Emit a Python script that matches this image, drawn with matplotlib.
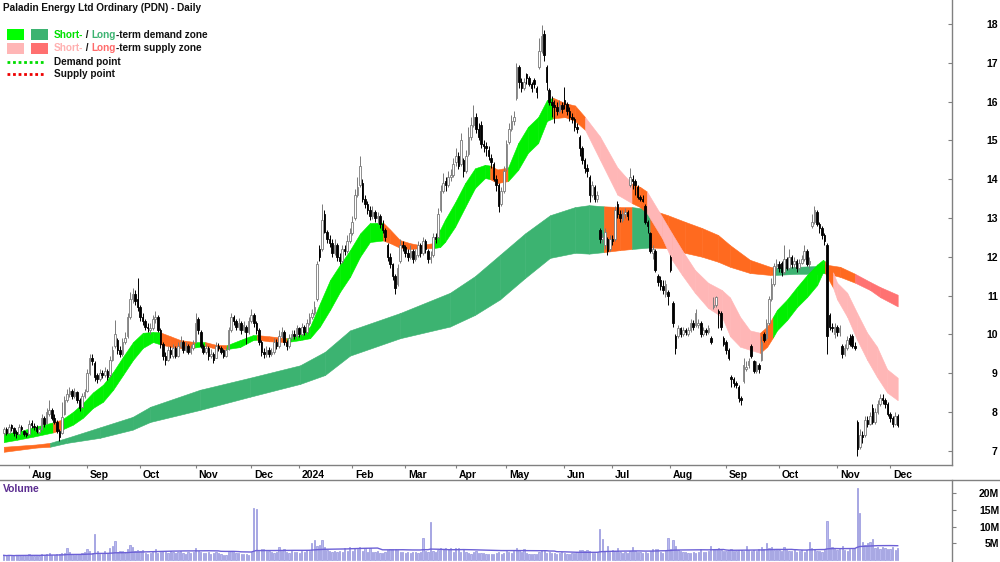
import numpy as np
import pandas as pd
import matplotlib
matplotlib.use('Agg')
import matplotlib.pyplot as plt
from matplotlib.patches import Rectangle
from matplotlib.lines import Line2D
import matplotlib.transforms as mtransforms

plt.rcParams['font.family'] = ['Liberation Sans', 'DejaVu Sans']

# ---------------- data ----------------
start_date = '2023-07-18'
holidays = ['2023-12-25', '2023-12-26', '2024-01-01', '2024-01-26', '2024-03-29',
            '2024-04-01', '2024-04-25', '2024-06-10', '2024-12-25', '2024-12-26']

opens = [
    7.45, 7.55, 7.45, 7.65, 7.58, 7.48, 7.42, 7.62, 7.5, 7.45,
    7.42, 7.72, 7.62, 7.6, 7.48, 7.55, 7.85, 7.72, 7.95, 8.05,
    7.85, 7.75, 7.5, 7.45, 7.95, 8.3, 8.45, 8.55, 8.4, 8.5,
    8.3, 8.12, 8.4, 8.55, 9.0, 9.4, 9.25, 8.95, 8.85, 9.0,
    8.95, 9.05, 8.95, 9.35, 9.7, 9.85, 9.6, 9.5, 9.8, 9.95,
    10.45, 10.9, 11.05, 10.9, 10.7, 10.45, 10.35, 10.2, 10.1, 10.15,
    10.4, 10.45, 10.1, 9.75, 9.45, 9.35, 9.6, 9.45, 9.65, 9.45,
    9.7, 9.8, 9.6, 9.7, 9.55, 9.65, 9.8, 10.4, 10.05, 9.7,
    9.55, 9.65, 9.45, 9.5, 9.4, 9.7, 9.65, 9.6, 9.45, 9.62,
    10.1, 10.45, 10.35, 10.2, 10.3, 10.1, 10.2, 10.05, 10.35, 10.5,
    10.3, 10.1, 9.8, 9.55, 9.5, 9.6, 9.5, 9.55, 9.8, 9.7,
    9.95, 10.05, 9.8, 9.7, 9.9, 10.0, 9.95, 10.15, 10.0, 10.2,
    10.05, 10.3, 10.45, 10.55, 10.9, 12.2, 12.2, 13.1, 12.65, 12.45,
    12.35, 12.1, 12.3, 12.0, 11.9, 12.2, 12.15, 12.4, 12.6, 13.0,
    13.6, 13.85, 13.9, 13.5, 13.35, 13.2, 13.05, 13.15, 13.0, 13.05,
    12.85, 12.7, 12.3, 12.0, 11.8, 11.5, 11.3, 11.9, 12.3, 12.25,
    12.1, 12.0, 12.15, 11.95, 12.05, 12.3, 12.1, 12.4, 12.15, 11.95,
    12.05, 12.5, 12.5, 13.2, 13.7, 13.95, 13.85, 14.05, 14.1, 14.45,
    14.6, 14.4, 14.5, 14.2, 14.65, 15.1, 15.4, 15.6, 15.3, 15.4,
    14.9, 14.85, 14.75, 14.55, 14.4, 14.0, 13.85, 13.35, 13.7, 14.25,
    14.95, 15.3, 15.5, 16.1, 16.9, 16.5, 16.35, 16.7, 16.6, 16.45,
    16.55, 16.35, 16.9, 17.3, 17.75, 16.9, 16.3, 16.0, 15.9, 15.85,
    15.75, 15.9, 16.05, 15.95, 15.75, 15.6, 15.55, 15.35, 15.1, 14.8,
    14.5, 14.3, 14.05, 13.6, 13.8, 13.5, 12.7, 12.45, 12.3, 12.45,
    12.2, 12.45, 12.45, 13.35, 13.1, 12.95, 13.1, 13.15, 13.85, 14.0,
    13.95, 13.8, 13.55, 13.5, 13.3, 12.9, 12.6, 12.1, 12.15, 11.5,
    11.4, 11.25, 11.05, 11.1, 12.0, 10.8, 9.95, 9.95, 10.15, 10.0,
    10.1, 10.0, 10.1, 10.3, 10.25, 10.25, 10.3, 10.0, 10.1, 10.05,
    9.9, 10.7, 10.75, 10.6, 10.55, 9.9, 9.8, 9.6, 8.9, 8.85,
    8.75, 8.65, 8.35, 8.8, 9.1, 9.2, 9.7, 9.3, 9.05, 9.2,
    9.35, 10.0, 9.9, 10.3, 10.9, 11.3, 11.75, 11.8, 11.85, 11.6,
    11.95, 11.7, 12.0, 11.8, 11.9, 11.7, 11.85, 11.95, 12.15, 11.8,
    12.8, 12.9, 13.15, 12.85, 12.75, 12.55, 12.3, 10.5, 10.2, 10.0,
    10.2, 10.05, 9.7, 9.5, 9.65, 9.9, 9.95, 9.7, 7.75, 7.1,
    7.4, 7.4, 7.8, 7.7, 8.1, 7.75, 8.0, 8.2, 8.35, 8.3,
    8.2, 7.95, 7.85, 7.7, 7.9]

highs = [
    7.62, 7.6, 7.7, 7.7, 7.6, 7.52, 7.68, 7.66, 7.52, 7.48,
    7.8, 7.8, 7.72, 7.65, 7.62, 7.95, 7.9, 8.1, 8.3, 8.1,
    7.95, 7.78, 7.55, 8.25, 8.4, 8.6, 8.65, 8.6, 8.62, 8.55,
    8.35, 8.48, 8.6, 9.1, 9.5, 9.48, 9.3, 9.0, 9.1, 9.08,
    9.15, 9.1, 9.45, 9.7, 10.37, 9.9, 9.7, 9.9, 10.05, 10.55,
    11.1, 11.2, 11.15, 11.45, 10.75, 10.55, 10.4, 10.3, 10.3, 10.5,
    10.6, 10.5, 10.15, 9.8, 9.55, 9.7, 9.7, 9.75, 9.7, 9.8,
    9.95, 9.85, 9.8, 9.75, 9.72, 9.85, 10.55, 10.45, 10.1, 9.75,
    9.75, 9.7, 9.62, 9.55, 9.8, 9.78, 9.7, 9.62, 9.68, 10.2,
    10.55, 10.5, 10.4, 10.42, 10.35, 10.35, 10.25, 10.45, 10.65, 10.55,
    10.35, 10.15, 9.85, 9.65, 9.7, 9.68, 9.65, 9.9, 9.88, 10.1,
    10.2, 10.1, 9.85, 10.0, 10.1, 10.1, 10.25, 10.2, 10.3, 10.25,
    10.4, 10.55, 10.65, 10.85, 11.9, 12.3, 13.35, 13.2, 12.7, 12.55,
    12.45, 12.45, 12.35, 12.1, 12.3, 12.3, 12.55, 12.75, 13.05, 13.75,
    14.05, 14.6, 14.0, 13.6, 13.45, 13.3, 13.3, 13.2, 13.15, 13.1,
    12.95, 12.75, 12.35, 12.1, 11.85, 11.55, 11.8, 12.45, 12.4, 12.3,
    12.2, 12.3, 12.2, 12.2, 12.4, 12.35, 12.5, 12.45, 12.2, 12.15,
    12.6, 12.6, 13.25, 13.85, 14.15, 14.05, 14.2, 14.25, 14.55, 14.8,
    14.7, 15.2, 14.55, 14.75, 15.35, 15.6, 15.9, 15.7, 15.45, 15.5,
    15.0, 14.95, 14.85, 14.65, 14.45, 14.1, 13.9, 13.8, 14.35, 15.0,
    15.45, 15.65, 15.75, 17.0, 16.95, 16.6, 16.6, 16.75, 16.65, 16.5,
    16.6, 16.4, 17.65, 17.97, 17.85, 16.95, 16.35, 16.15, 16.05, 16.0,
    16.05, 16.0, 16.38, 16.0, 15.85, 15.7, 15.6, 15.45, 15.15, 14.85,
    14.55, 14.4, 14.1, 13.95, 13.85, 13.7, 12.75, 12.6, 12.75, 12.5,
    12.55, 12.55, 13.3, 13.45, 13.2, 13.2, 13.25, 13.2, 14.3, 14.1,
    14.0, 13.85, 13.6, 13.6, 13.35, 12.95, 12.65, 12.3, 12.2, 11.55,
    11.5, 11.4, 11.4, 11.15, 12.05, 10.85, 10.0, 10.25, 10.2, 10.2,
    10.15, 10.2, 10.4, 10.38, 10.65, 10.4, 10.35, 10.2, 10.15, 10.25,
    9.95, 10.95, 11.0, 10.65, 10.6, 9.95, 9.85, 9.65, 8.95, 8.9,
    8.8, 8.7, 8.4, 9.4, 9.3, 9.38, 9.75, 9.35, 9.3, 9.25,
    9.95, 10.05, 10.4, 11.0, 11.45, 11.85, 11.95, 11.9, 11.9, 12.3,
    12.0, 12.2, 12.05, 12.0, 11.95, 11.95, 12.05, 12.3, 12.2, 12.0,
    13.1, 13.3, 13.2, 12.9, 12.8, 12.6, 12.35, 10.55, 10.3, 10.3,
    10.25, 10.25, 9.75, 9.75, 9.95, 10.0, 10.0, 9.8, 7.8, 7.55,
    7.5, 7.9, 7.9, 8.0, 8.2, 8.1, 8.3, 8.45, 8.45, 8.35,
    8.25, 8.0, 7.9, 8.0, 7.95]

lows = [
    7.4, 7.4, 7.42, 7.5, 7.38, 7.33, 7.4, 7.5, 7.38, 7.35,
    7.4, 7.58, 7.52, 7.45, 7.44, 7.52, 7.62, 7.7, 7.9, 7.8,
    7.7, 7.45, 7.25, 7.42, 7.92, 8.25, 8.38, 8.32, 8.35, 8.22,
    8.02, 8.1, 8.35, 8.5, 8.95, 9.2, 8.8, 8.75, 8.8, 8.88,
    8.9, 8.82, 8.9, 9.3, 9.65, 9.5, 9.42, 9.45, 9.75, 9.9,
    10.4, 10.8, 10.75, 10.6, 10.35, 10.25, 10.1, 10.05, 10.0, 10.1,
    10.3, 10.05, 9.65, 9.35, 9.2, 9.3, 9.4, 9.4, 9.38, 9.42,
    9.65, 9.52, 9.55, 9.48, 9.5, 9.6, 9.78, 10.0, 9.65, 9.48,
    9.5, 9.35, 9.38, 9.25, 9.38, 9.58, 9.48, 9.38, 9.42, 9.6,
    10.05, 10.25, 10.1, 10.12, 10.02, 10.05, 9.75, 10.0, 10.3, 10.2,
    10.0, 9.72, 9.45, 9.4, 9.42, 9.42, 9.45, 9.5, 9.62, 9.65,
    9.9, 9.72, 9.6, 9.65, 9.85, 9.88, 9.9, 9.92, 9.95, 9.98,
    10.0, 10.25, 10.4, 10.5, 10.85, 11.9, 12.15, 12.6, 12.35, 12.25,
    12.0, 12.05, 11.9, 11.8, 11.85, 12.05, 12.1, 12.35, 12.55, 12.95,
    13.55, 13.8, 13.4, 13.25, 13.1, 12.95, 12.98, 12.9, 12.85, 12.75,
    12.6, 12.4, 11.9, 11.7, 11.4, 11.05, 11.25, 11.85, 12.15, 12.0,
    11.9, 11.95, 11.85, 11.9, 12.0, 12.0, 12.05, 12.1, 11.85, 11.85,
    12.0, 12.35, 12.45, 13.15, 13.65, 13.7, 13.8, 13.95, 14.05, 14.35,
    14.25, 14.35, 14.05, 14.15, 14.6, 15.0, 15.35, 15.2, 15.0, 14.8,
    14.7, 14.6, 14.5, 14.3, 13.95, 13.7, 13.15, 13.3, 13.65, 14.2,
    14.9, 15.25, 15.4, 16.05, 16.35, 16.25, 16.3, 16.45, 16.4, 16.25,
    16.35, 16.1, 16.85, 17.25, 17.05, 16.3, 15.9, 15.6, 15.45, 15.65,
    15.7, 15.7, 15.8, 15.65, 15.5, 15.45, 15.25, 15.2, 14.6, 14.4,
    14.15, 14.05, 13.4, 13.55, 13.4, 13.42, 12.35, 12.35, 12.2, 12.05,
    12.15, 12.3, 12.4, 13.0, 12.9, 12.9, 13.0, 12.95, 13.8, 13.75,
    13.6, 13.5, 13.45, 13.4, 12.85, 12.6, 12.1, 11.95, 11.6, 11.25,
    11.15, 11.05, 10.95, 10.75, 11.6, 10.2, 9.5, 9.9, 9.93, 9.95,
    9.97, 9.95, 10.05, 10.12, 10.2, 10.15, 9.93, 9.95, 9.98, 10.0,
    9.75, 10.65, 10.7, 10.15, 10.1, 9.7, 9.5, 9.35, 8.65, 8.65,
    8.62, 8.25, 8.18, 8.75, 9.05, 9.12, 9.4, 9.0, 9.0, 9.0,
    9.3, 9.8, 9.85, 10.25, 10.85, 11.25, 11.65, 11.6, 11.5, 11.55,
    11.65, 11.65, 11.7, 11.7, 11.6, 11.65, 11.8, 11.9, 11.75, 11.7,
    12.75, 12.85, 12.8, 12.6, 12.45, 12.3, 9.5, 10.1, 10.05, 9.9,
    9.95, 9.95, 9.4, 9.45, 9.6, 9.7, 9.65, 9.6, 6.85, 7.05,
    7.2, 7.35, 7.6, 7.65, 7.7, 7.7, 7.95, 8.15, 8.2, 8.1,
    7.9, 7.75, 7.6, 7.65, 7.6]

closes = [
    7.55, 7.45, 7.62, 7.58, 7.45, 7.42, 7.6, 7.55, 7.42, 7.4,
    7.7, 7.65, 7.6, 7.5, 7.55, 7.85, 7.7, 8.0, 8.05, 7.85,
    7.75, 7.5, 7.35, 7.88, 8.3, 8.45, 8.55, 8.4, 8.5, 8.3,
    8.1, 8.4, 8.5, 9.0, 9.4, 9.3, 8.9, 8.85, 9.0, 8.95,
    9.05, 8.9, 9.35, 9.6, 10.0, 9.6, 9.5, 9.8, 9.9, 10.45,
    10.9, 11.05, 10.85, 10.7, 10.45, 10.35, 10.2, 10.15, 10.15, 10.4,
    10.45, 10.1, 9.75, 9.45, 9.35, 9.6, 9.5, 9.65, 9.45, 9.7,
    9.8, 9.6, 9.7, 9.55, 9.65, 9.75, 10.3, 10.1, 9.7, 9.55,
    9.65, 9.45, 9.5, 9.35, 9.7, 9.65, 9.55, 9.45, 9.6, 10.1,
    10.45, 10.35, 10.2, 10.3, 10.1, 10.25, 10.05, 10.35, 10.5, 10.3,
    10.1, 9.8, 9.55, 9.5, 9.6, 9.5, 9.55, 9.8, 9.7, 9.95,
    10.05, 9.8, 9.7, 9.9, 10.0, 9.95, 10.15, 10.0, 10.2, 10.05,
    10.3, 10.45, 10.55, 10.7, 11.8, 12.0, 12.95, 12.65, 12.45, 12.35,
    12.1, 12.3, 12.0, 11.9, 12.2, 12.15, 12.4, 12.6, 12.9, 13.6,
    13.8, 14.35, 13.5, 13.35, 13.2, 13.05, 13.15, 13.0, 13.05, 12.85,
    12.7, 12.5, 12.0, 11.8, 11.5, 11.2, 11.7, 12.3, 12.25, 12.1,
    12.0, 12.15, 11.95, 12.05, 12.3, 12.1, 12.4, 12.2, 11.95, 12.0,
    12.5, 12.45, 13.1, 13.7, 13.9, 13.85, 14.05, 14.1, 14.4, 14.6,
    14.35, 15.0, 14.2, 14.6, 15.1, 15.4, 15.6, 15.3, 15.1, 14.9,
    14.85, 14.8, 14.6, 14.45, 14.0, 13.85, 13.3, 13.7, 14.2, 14.9,
    15.3, 15.5, 15.6, 16.9, 16.5, 16.35, 16.5, 16.6, 16.45, 16.35,
    16.45, 16.25, 17.3, 17.7, 17.2, 16.5, 16.0, 15.9, 15.85, 15.75,
    15.9, 15.8, 15.95, 15.75, 15.6, 15.55, 15.35, 15.3, 14.8, 14.5,
    14.3, 14.2, 13.6, 13.85, 13.5, 13.6, 12.45, 12.5, 12.65, 12.15,
    12.45, 12.4, 13.2, 13.1, 13.0, 13.1, 13.15, 13.05, 14.05, 13.95,
    13.85, 13.55, 13.5, 13.45, 12.9, 12.8, 12.15, 12.2, 11.65, 11.35,
    11.25, 11.15, 11.3, 11.0, 11.65, 10.3, 9.65, 10.15, 10.0, 10.1,
    10.05, 10.1, 10.3, 10.2, 10.55, 10.3, 10.0, 10.1, 10.05, 10.15,
    9.8, 10.75, 10.95, 10.55, 10.2, 9.75, 9.6, 9.4, 8.85, 8.75,
    8.7, 8.35, 8.3, 9.2, 9.15, 9.3, 9.45, 9.05, 9.2, 9.1,
    9.8, 9.85, 10.3, 10.9, 11.3, 11.75, 11.8, 11.7, 11.6, 11.95,
    11.7, 12.0, 11.8, 11.9, 11.7, 11.85, 11.95, 12.15, 11.8, 11.9,
    12.9, 13.2, 12.85, 12.75, 12.55, 12.4, 9.95, 10.2, 10.15, 10.2,
    10.05, 10.15, 9.5, 9.65, 9.85, 9.75, 9.7, 9.65, 7.05, 7.4,
    7.35, 7.8, 7.7, 7.9, 7.75, 8.0, 8.2, 8.35, 8.3, 8.2,
    7.95, 7.85, 7.7, 7.9, 7.65]

volume_m = [
    1.4, 1.2, 1.5, 1.3, 1.1, 1.6, 1.4, 1.2, 1.5, 1.3,
    1.7, 1.4, 1.3, 1.5, 1.2, 1.8, 1.6, 1.9, 2.1, 1.5,
    1.4, 1.7, 1.9, 2.0, 2.2, 3.5, 2.3, 1.8, 1.6, 1.9,
    1.7, 2.0, 2.4, 3.3, 2.8, 2.2, 7.9, 2.6, 1.9, 1.8,
    2.8, 2.1, 3.5, 4.2, 5.6, 2.4, 2.8, 2.7, 2.2, 3.4,
    4.5, 4.0, 2.6, 3.0, 2.8, 3.0, 2.2, 1.9, 2.0, 2.4,
    3.3, 2.2, 2.5, 2.6, 2.4, 2.1, 2.7, 2.3, 2.0, 2.5,
    2.6, 2.2, 1.9, 2.4, 2.1, 2.3, 3.5, 2.6, 2.4, 2.2,
    2.0, 2.3, 1.9, 2.1, 2.4, 2.0, 1.8, 1.6, 1.5, 2.3,
    2.6, 2.4, 2.2, 2.0, 1.9, 1.8, 1.7, 1.6, 2.4, 15.4,
    15.2, 2.8, 3.2, 3.2, 2.8, 2.6, 2.4, 2.2, 2.5, 4.0,
    2.6, 3.4, 2.4, 2.2, 2.7, 2.5, 2.3, 2.2, 2.6, 2.4,
    2.9, 2.6, 5.1, 5.9, 4.2, 4.5, 5.9, 4.0, 3.0, 2.8,
    2.5, 2.6, 2.4, 2.8, 2.5, 3.6, 2.7, 3.8, 2.6, 3.7,
    3.2, 3.9, 2.8, 3.6, 2.5, 3.5, 2.4, 2.3, 2.6, 2.2,
    2.1, 2.4, 3.0, 3.2, 3.3, 3.2, 2.9, 2.5, 2.4, 2.2,
    2.3, 2.1, 2.4, 2.5, 2.2, 2.3, 6.7, 2.6, 2.4, 11.4,
    2.6, 2.4, 3.1, 3.6, 3.3, 3.7, 3.2, 3.6, 2.4, 3.5,
    3.5, 2.5, 3.4, 2.3, 2.0, 1.9, 2.3, 2.6, 2.2, 2.1,
    2.0, 1.8, 1.9, 1.7, 1.8, 2.2, 2.4, 1.9, 2.1, 2.6,
    2.5, 2.2, 2.8, 3.5, 2.9, 2.4, 3.3, 2.2, 1.8, 1.9,
    1.7, 1.8, 2.4, 3.0, 2.6, 2.0, 2.3, 2.1, 2.2, 1.9,
    2.0, 2.3, 2.1, 1.9, 1.8, 2.0, 2.2, 2.4, 2.9, 3.0,
    2.6, 3.0, 2.7, 2.2, 2.1, 2.3, 9.4, 6.4, 2.8, 4.3,
    2.5, 2.9, 2.6, 3.5, 2.4, 2.2, 2.5, 2.1, 2.8, 4.0,
    2.6, 2.3, 2.4, 2.0, 2.5, 2.2, 2.6, 3.4, 3.2, 3.4,
    2.5, 2.2, 2.6, 6.7, 3.4, 5.9, 4.3, 3.0, 2.6, 2.4,
    2.3, 2.1, 2.0, 2.4, 2.2, 2.5, 3.2, 2.4, 2.3, 2.6,
    4.2, 3.4, 3.2, 3.5, 3.0, 2.8, 2.6, 2.9, 3.3, 2.7,
    2.8, 3.1, 3.0, 2.7, 4.2, 2.9, 2.6, 3.0, 2.8, 3.3,
    4.0, 3.2, 5.1, 3.5, 4.0, 3.0, 3.3, 2.9, 2.7, 4.0,
    3.0, 2.6, 2.8, 2.9, 2.4, 2.7, 3.0, 2.5, 3.0, 5.4,
    3.6, 3.3, 2.7, 2.8, 2.4, 3.0, 11.7, 6.4, 4.0, 3.3,
    2.9, 3.2, 4.3, 3.0, 2.8, 3.2, 3.4, 3.5, 21.6, 13.9,
    5.4, 4.5, 5.0, 5.4, 6.4, 3.6, 3.8, 3.4, 4.0, 3.5,
    3.2, 3.4, 4.0, 3.1, 3.6]

# short-term zone band (bar position, upper, lower, zone state of following stretch)
short_pos = [0, 5.2, 11.6, 19.5, 23, 27.4, 31.4, 35.3, 39.3, 43.3,
             47.2, 51.2, 55.1, 59.1, 62, 66, 70, 75.7, 79.7, 84,
             88.4, 93.5, 98.7, 100.3, 105, 112.2, 117.3, 121.3, 125.2, 129.2,
             133.2, 137.1, 141.1, 145, 150.2, 153, 156.9, 160.9, 164.8, 170,
             172.8, 174.7, 178.7, 182.7, 186.6, 190.6, 192.6, 195.5, 199.7, 203.7,
             207.6, 211.6, 215.1, 217.5, 222.3, 226.2, 230.2, 236.1, 243, 248.8,
             252, 254.7, 260.7, 264.6, 268.6, 273.7, 278.9, 284.4, 287.6, 291.6,
             295.5, 299.5, 302.3, 304.6, 306.2, 310.2, 314.1, 318.1, 322.1, 324.4,
             325.2, 328.4, 330, 334, 337.9, 341.9, 345.8, 349.8, 354]
short_hi = [7.45, 7.48, 7.6, 7.73, 7.8, 8.0, 8.23, 8.5, 8.7, 9.03,
            9.42, 9.8, 10.04, 10.06, 10.05, 9.95, 9.85, 9.8, 9.8, 9.73,
            9.72, 9.85, 9.98, 9.98, 9.95, 9.9, 9.98, 10.2, 10.8, 11.4,
            11.8, 12.17, 12.6, 12.87, 12.88, 12.7, 12.43, 12.35, 12.3, 12.35,
            12.7, 12.95, 13.4, 13.9, 14.28, 14.37, 14.35, 14.25, 14.3, 14.93,
            15.35, 15.6, 16.04, 16.1, 15.96, 15.9, 15.6, 15.1, 14.3, 13.88,
            13.8, 13.68, 13.03, 12.6, 12.17, 11.66, 11.33, 11.14, 10.95, 10.45,
            10.1, 10.04, 10.2, 10.45, 10.63, 10.9, 11.22, 11.53, 11.8, 11.92,
            11.88, 11.6, 11.33, 11.07, 10.55, 10.04, 9.68, 9.1, 8.88]
short_lo = [7.22, 7.28, 7.36, 7.47, 7.54, 7.67, 7.85, 8.1, 8.26, 8.57,
            8.95, 9.34, 9.65, 9.8, 9.74, 9.68, 9.65, 9.66, 9.7, 9.63,
            9.62, 9.67, 9.85, 9.86, 9.82, 9.8, 9.85, 9.9, 10.2, 10.63,
            11.1, 11.48, 12.0, 12.38, 12.42, 12.35, 12.23, 12.2, 12.22, 12.22,
            12.25, 12.38, 12.77, 13.28, 13.77, 14.03, 14.0, 13.9, 13.95, 14.24,
            14.68, 14.93, 15.5, 15.57, 15.6, 15.5, 15.27, 14.5, 13.6, 13.38,
            13.28, 13.12, 12.48, 11.92, 11.53, 11.07, 10.68, 10.45, 9.95, 9.68,
            9.6, 9.52, 9.68, 9.92, 10.1, 10.37, 10.7, 10.96, 11.27, 11.6,
            11.58, 11.2, 10.9, 10.45, 9.86, 9.34, 8.9, 8.5, 8.3]
short_zone = "DDDNDDDDDDDDDDNNNDNNDDDNNDDDDDDDDDNNNNNDDDDDDDNNDDDDDNNNSSSNNSSSSSSSSSSNNDDDDDDDNSSSSSSSS"

# long-term zone band
long_pos = [0, 13, 18.3, 25, 38, 51, 58, 77.7, 97.5, 117.3,
            127.2, 137.1, 157, 176.7, 186.6, 196.5, 206.4, 216.3, 226.2, 231.8,
            237.7, 244, 248.8, 256, 263, 269.8, 276.5, 282.9, 287.6, 295.5,
            303.5, 305.4, 314.1, 322.1, 325.2, 331.2, 337.1, 343.1, 347, 354]
long_hi = [7.1, 7.16, 7.2, 7.33, 7.6, 7.87, 8.13, 8.57, 8.88, 9.2,
           9.55, 10.1, 10.55, 11.07, 11.5, 12.05, 12.6, 13.07, 13.28, 13.33,
           13.3, 13.28, 13.28, 13.22, 13.07, 12.9, 12.74, 12.56, 12.3, 11.92,
           11.74, 11.72, 11.74, 11.76, 11.8, 11.74, 11.56, 11.35, 11.22, 11.02]
long_lo = [6.97, 7.08, 7.1, 7.2, 7.33, 7.54, 7.74, 8.05, 8.39, 8.72,
           8.95, 9.45, 9.9, 10.2, 10.5, 10.9, 11.45, 11.97, 12.1, 12.08,
           12.12, 12.17, 12.2, 12.24, 12.22, 12.1, 12.0, 11.87, 11.74, 11.58,
           11.53, 11.53, 11.56, 11.56, 11.58, 11.48, 11.33, 11.14, 10.96, 10.72]
long_zone = "NNDDDDDDDDDDDDDDDDDDNNDNNNNNNNNDDDNNSSSS"

vol_ticks = [5, 10, 15, 20]
price_ticks = list(range(7, 19))

# ---------------- layout ----------------
W, H = 1000, 562
fig = plt.figure(figsize=(W / 100, H / 100), dpi=100)
ax = fig.add_axes([0, 1 - 465 / H, 0.952, 465 / H])
axv = fig.add_axes([0, 0, 0.952, (H - 480) / H])

N = len(closes)
for arr in (opens, highs, lows, volume_m):
    assert len(arr) == N
assert len(short_pos) == len(short_hi) == len(short_lo) == len(short_zone)
assert len(long_pos) == len(long_hi) == len(long_lo) == len(long_zone)

o = np.array(opens); h = np.array(highs); l = np.array(lows); c = np.array(closes)
xs = np.arange(N)

cal = pd.offsets.CustomBusinessDay(holidays=holidays)
dates = pd.date_range(start_date, periods=N + 30, freq=cal)
XMIN, XMAX = -1.49, 375.5
LAST_TICK = 362  # month labels only where they fit inside the price panel

# zone bands
short_cols = {'D': '#00f000', 'N': '#ff6a1f', 'S': '#ffb6b6'}
long_cols = {'D': '#3cb371', 'N': '#ff6a1f', 'S': '#ff7272'}


def draw_band(pos, hi, lo, zone, cols, z):
    for k in range(len(pos) - 1):
        col = cols[zone[k]]
        ax.fill_between([pos[k], pos[k + 1]], [lo[k], lo[k + 1]], [hi[k], hi[k + 1]],
                        facecolor=col, edgecolor=col, linewidth=0.4, zorder=z)


draw_band(long_pos, long_hi, long_lo, long_zone, long_cols, 1)
draw_band(short_pos, short_hi, short_lo, short_zone, short_cols, 2)

# candles
up = c >= o
body_lo = np.minimum(o, c)
body_h = np.maximum(np.abs(c - o), 0.025)
wick_lo = np.minimum(l, body_lo)
wick_hi = np.maximum(h, np.maximum(o, c))
ax.vlines(xs[up], wick_lo[up], wick_hi[up], color='#7a7a7a', lw=0.7, zorder=3)
ax.vlines(xs[~up], wick_lo[~up], wick_hi[~up], color='black', lw=0.7, zorder=3)
ax.bar(xs[up], body_h[up], bottom=body_lo[up], width=0.62, facecolor='white',
       edgecolor='#7a7a7a', linewidth=0.6, zorder=4)
ax.bar(xs[~up], body_h[~up], bottom=body_lo[~up], width=0.62, facecolor='black',
       edgecolor='black', linewidth=0.6, zorder=4)

ax.set_xlim(XMIN, XMAX)
ax.set_ylim(6.63, 18.62)

# month ticks
tpos, tlab = [], []
for k in range(1, len(dates)):
    if dates[k].month != dates[k - 1].month and k <= LAST_TICK:
        tpos.append(k)
        tlab.append(str(dates[k].year) if dates[k].month == 1 else dates[k].strftime('%b'))
ax.set_xticks(tpos)
ax.set_xticklabels(tlab)
ax.tick_params(axis='x', direction='out', length=2.5, width=0.8, color='#808080', pad=1,
               labelsize=7.5)
shift = mtransforms.ScaledTranslation(2 / 72, 0, fig.dpi_scale_trans)
for lbl in ax.get_xticklabels():
    lbl.set_horizontalalignment('left')
    lbl.set_fontweight('bold')
    lbl.set_transform(lbl.get_transform() + shift)

ax.yaxis.tick_right()
ax.set_yticks(price_ticks)
ax.set_yticklabels([str(t) for t in price_ticks])
ax.tick_params(axis='y', direction='in', length=3, width=0.8, color='#808080', pad=33,
               labelsize=7.5)
for lbl in ax.get_yticklabels():
    lbl.set_horizontalalignment('right')
    lbl.set_fontweight('bold')

for s in ('top', 'left'):
    ax.spines[s].set_visible(False)
for s in ('right', 'bottom'):
    ax.spines[s].set_color('#808080')
    ax.spines[s].set_linewidth(1)

# volume panel
axv.bar(xs, volume_m, width=0.5, facecolor='#b8b8ee', edgecolor='#9292dc', linewidth=0.5, zorder=2)
vma = pd.Series(volume_m).rolling(50, min_periods=1).mean()
axv.plot(xs, vma.values, color='#6c60d6', lw=1.0, zorder=3)
axv.set_xlim(XMIN, XMAX)
axv.set_ylim(-0.6, 23.9)
axv.set_xticks([])
axv.yaxis.tick_right()
axv.set_yticks(vol_ticks)
axv.set_yticklabels([f'{t}M' for t in vol_ticks])
axv.tick_params(axis='y', direction='out', length=3, width=0.8, color='#808080', pad=31,
                labelsize=7.5)
for lbl in axv.get_yticklabels():
    lbl.set_horizontalalignment('right')
    lbl.set_fontweight('bold')
for s in ('top', 'left', 'bottom'):
    axv.spines[s].set_visible(False)
axv.spines['right'].set_color('#808080')
axv.spines['right'].set_linewidth(1)

fig.add_artist(Line2D([0, 1], [1 - 480 / H, 1 - 480 / H], transform=fig.transFigure,
                      color='#808080', lw=1))
fig.text(3 / W, 1 - 489 / H, 'Volume', color='#5b2d90', fontsize=7.5, fontweight='bold',
         va='center', ha='left')

# title and legend
FS = 7.2
fig.text(3 / W, 1 - 8 / H, 'Paladin Energy Ltd Ordinary (PDN) - Daily', fontsize=FS,
         fontweight='bold', va='center', ha='left', color='#111111')

for (x0, y0, col) in [(7, 29, '#00ff00'), (31, 29, '#3cb371'),
                      (7, 43, '#ffb6b6'), (31, 43, '#ff7070')]:
    fig.add_artist(Rectangle((x0 / W, 1 - (y0 + 11) / H), 17 / W, 11 / H,
                             transform=fig.transFigure, facecolor=col, edgecolor='none'))

fig.add_artist(Line2D([7 / W, 45 / W], [1 - 62 / H] * 2, transform=fig.transFigure,
                      color='#00dd00', lw=2, linestyle=(0, (1, 1))))
fig.add_artist(Line2D([7 / W, 45 / W], [1 - 74 / H] * 2, transform=fig.transFigure,
                      color='#ee0000', lw=2, linestyle=(0, (1, 1))))

renderer = fig.canvas.get_renderer()


def seq_text(px, py, parts):
    xcur = px
    for s, col in parts:
        t = fig.text(xcur / W, 1 - py / H, s, color=col, fontsize=FS, fontweight='bold',
                     va='center', ha='left')
        xcur += t.get_window_extent(renderer=renderer).width


seq_text(54, 35, [('Short-', '#00e000'), (' / ', '#111111'), ('Long', '#3cb371'),
                  ('-term demand zone', '#111111')])
seq_text(54, 48, [('Short-', '#ffb0b0'), (' / ', '#111111'), ('Long', '#ff6a6a'),
                  ('-term supply zone', '#111111')])
seq_text(54, 62, [('Demand point', '#111111')])
seq_text(54, 74, [('Supply point', '#111111')])

fig.savefig('out.png', dpi=100)
